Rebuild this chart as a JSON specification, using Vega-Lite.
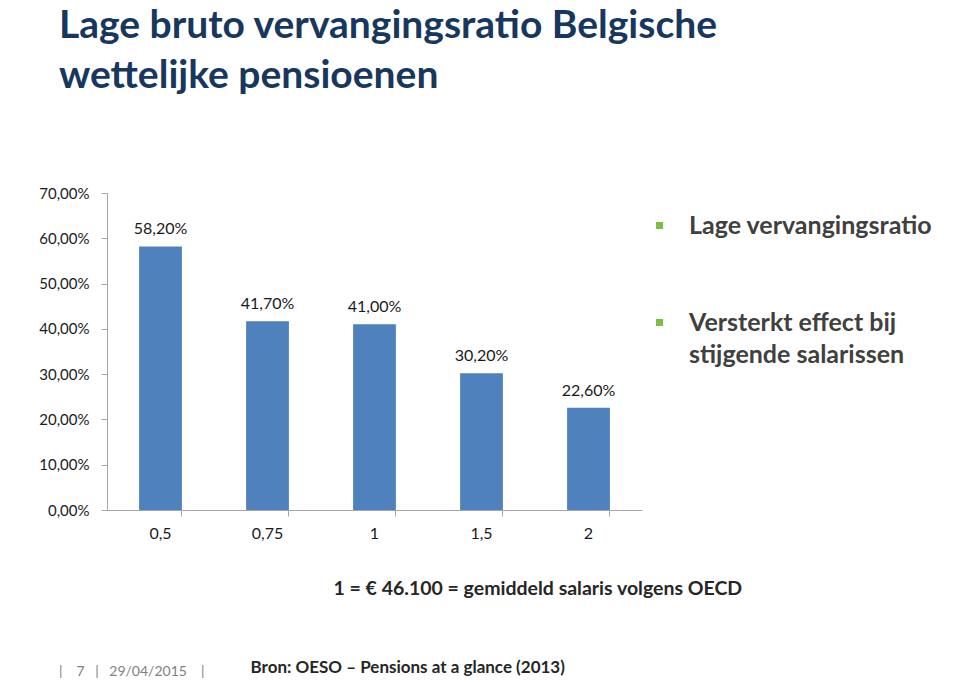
{
  "$schema": "https://vega.github.io/schema/vega-lite/v6.json",
  "autosize": "none",
  "width": 535,
  "height": 317,
  "padding": {"left": 107, "top": 193, "right": 318, "bottom": 177},
  "background": "white",
  "title": {
    "text": ["Lage bruto vervangingsratio Belgische", "wettelijke pensioenen"],
    "subtitle": "|\u2002\u20027\u2002\u00a0|\u2002\u00a029/04/2015\u2002\u2002|",
    "anchor": "start",
    "frame": "group",
    "orient": "top",
    "dx": -48,
    "offset": -493,
    "font": "Lato",
    "fontSize": 39,
    "fontWeight": "bold",
    "color": "#17375e",
    "lineHeight": 50,
    "subtitleFont": "Lato",
    "subtitleFontSize": 14,
    "subtitleColor": "#7f7f7f",
    "subtitlePadding": 569
  },
  "layer": [
    {
      "data": {"name": "ratio"},
      "mark": {"type": "bar", "color": "#4f81bd"},
      "encoding": {
        "x": {
          "field": "salaris",
          "type": "ordinal",
          "sort": null,
          "scale": {"paddingInner": 0.6, "paddingOuter": 0.3},
          "axis": {
            "title": "1 = € 46.100 = gemiddeld salaris volgens OECD",
            "titleX": 226,
            "titleY": 84,
            "titleAlign": "left",
            "titleAnchor": null,
            "titleBaseline": "alphabetic",
            "titleFont": "Lato",
            "titleFontSize": 19.5,
            "titleFontWeight": "bold",
            "titleColor": "#262626",
            "bandPosition": 1,
            "labelAngle": 0,
            "labelFont": "Lato",
            "labelFontSize": 16,
            "labelColor": "#1a1a1a",
            "labelPadding": 9,
            "tickSize": 6,
            "tickColor": "#a6a6a6",
            "domainColor": "#a6a6a6",
            "grid": false
          }
        },
        "y": {
          "field": "ratio",
          "type": "quantitative",
          "scale": {"domain": [0, 0.7], "nice": false},
          "axis": {
            "values": [0, 0.1, 0.2, 0.3, 0.4, 0.5, 0.6, 0.7],
            "format": ".2%",
            "title": "Bron: OESO – Pensions at a glance (2013)",
            "titleAngle": 0,
            "titleX": 143,
            "titleY": 479,
            "titleAlign": "left",
            "titleAnchor": null,
            "titleBaseline": "alphabetic",
            "titleFont": "Lato",
            "titleFontSize": 17,
            "titleFontWeight": "bold",
            "titleColor": "#262626",
            "labelFont": "Lato",
            "labelFontSize": 15,
            "labelColor": "#1a1a1a",
            "labelPadding": 12,
            "tickSize": 6,
            "tickColor": "#a6a6a6",
            "domainColor": "#a6a6a6",
            "grid": false
          }
        }
      }
    },
    {
      "data": {"name": "ratio"},
      "mark": {"type": "text", "baseline": "bottom", "dy": -9, "font": "Lato", "fontSize": 16, "color": "#1a1a1a"},
      "encoding": {
        "x": {"field": "salaris", "type": "ordinal", "sort": null},
        "y": {"field": "ratio", "type": "quantitative"},
        "text": {"field": "ratio", "type": "quantitative", "format": ".2%"}
      }
    },
    {
      "data": {"name": "punten"},
      "mark": {"type": "square", "opacity": 0},
      "encoding": {
        "color": {
          "field": "punt",
          "type": "nominal",
          "sort": null,
          "scale": {"range": ["#7ac143", "#7ac143"]},
          "legend": {
            "title": null,
            "orient": "none",
            "legendX": 540,
            "legendY": 20,
            "symbolType": "square",
            "symbolSize": 49,
            "symbolOpacity": 1,
            "symbolStrokeWidth": 0,
            "labelFont": "Lato",
            "labelFontSize": 25,
            "labelFontWeight": "bold",
            "labelColor": "#404040",
            "labelOffset": 17,
            "labelLimit": 0,
            "labelBaseline": "middle",
            "rowPadding": 71,
            "labelExpr": "datum.label == 'Versterkt effect bij stijgende salarissen' ? ['Versterkt effect bij', 'stijgende salarissen'] : datum.label"
          }
        }
      }
    }
  ],
  "datasets": {
    "ratio": [
      {"salaris": "0,5", "ratio": 0.582},
      {"salaris": "0,75", "ratio": 0.417},
      {"salaris": "1", "ratio": 0.41},
      {"salaris": "1,5", "ratio": 0.302},
      {"salaris": "2", "ratio": 0.226}
    ],
    "punten": [
      {"punt": "Lage vervangingsratio"},
      {"punt": "Versterkt effect bij stijgende salarissen"}
    ]
  },
  "config": {
    "locale": {"number": {"decimal": ",", "thousands": ".", "grouping": [3], "currency": ["€", ""]}},
    "view": {"stroke": null},
    "style": {"guide-label": {"lineHeight": 32}}
  }
}
